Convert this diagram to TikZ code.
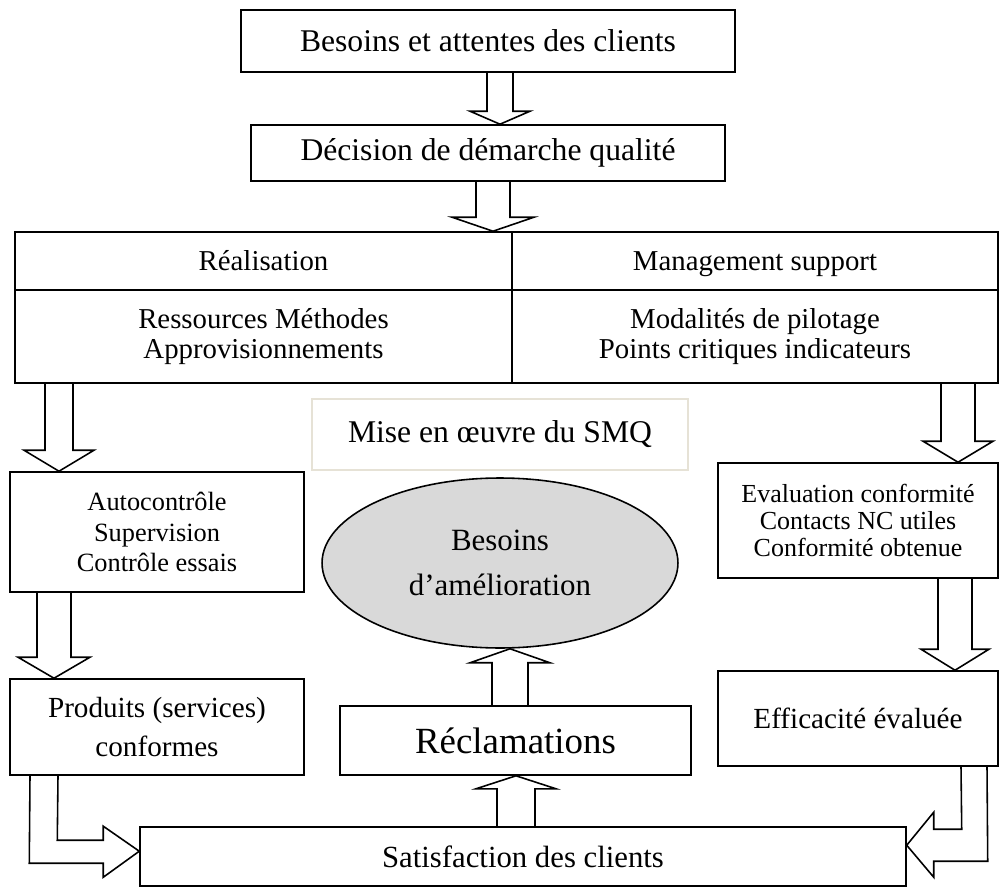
\documentclass[tikz,border=0pt]{standalone}
\usepackage{fontspec}
\setmainfont{Liberation Serif}
\usetikzlibrary{calc,shapes.geometric}
\definecolor{MiseEdge}{HTML}{E6E2D6}
\definecolor{BulleGray}{HTML}{D9D9D9}
\newcommand{\blockdown}[6]{% from, to, axis x, half shaft, half head, head length
  \coordinate (bs) at (#3,0 |- #1.south);
  \coordinate (bt) at (#3,0 |- #2.north);
  \draw[blockarrow] ($(bs)+(-#4,0)$) -- ($(bt)+(-#4,-#6)$) -- ($(bt)+(-#5,-#6)$) -- (bt)
    -- ($(bt)+(#5,-#6)$) -- ($(bt)+(#4,-#6)$) -- ($(bs)+(#4,0)$);
}
\newcommand{\blockup}[6]{%
  \coordinate (bs) at (#3,0 |- #1.north);
  \coordinate (bt) at (#3,0 |- #2.south);
  \draw[blockarrow] ($(bs)+(-#4,0)$) -- ($(bt)+(-#4,#6)$) -- ($(bt)+(-#5,#6)$) -- (bt)
    -- ($(bt)+(#5,#6)$) -- ($(bt)+(#4,#6)$) -- ($(bs)+(#4,0)$);
}

\begin{document}
\begin{tikzpicture}[
  x=0.02cm, y=-0.02cm,
  box/.style={draw, line width=0.9pt, inner sep=0pt, align=center},
  cell/.style={box, font=\fontsize{16.4}{17.2}\selectfont},
  mise/.style={draw=MiseEdge, line width=0.9pt, inner sep=0pt, font=\fontsize{18}{21}\selectfont},
  bulle/.style={ellipse, draw, line width=0.9pt, fill=BulleGray, inner sep=0pt, align=center},
  blockarrow/.style={draw, line width=0.9pt, line join=miter},
]
\useasboundingbox (0,0) rectangle (1000,888);

% top of the chain
\node[box, minimum width=9.88cm, minimum height=1.24cm, font=\fontsize{18}{21}\selectfont] (need) at (488,41) {Besoins et attentes des clients};
\node[box, minimum width=9.48cm, minimum height=1.12cm, font=\fontsize{18}{21}\selectfont] (dec) at (488,153) {Décision de démarche qualité};

% the table
\node[cell, minimum width=9.94cm, minimum height=1.16cm] (real) at (263.5,261) {\vphantom{Ég}Réalisation};
\node[cell, minimum width=9.72cm, minimum height=1.16cm] (mgmt) at (755,261) {\vphantom{Ég}Management support};
\node[cell, minimum width=9.94cm, minimum height=1.86cm] (ress) at (263.5,336.5) {Ressources Méthodes\\Approvisionnements};
\node[cell, minimum width=9.72cm, minimum height=1.86cm] (pilot) at (755,336.5) {Modalités de pilotage\\Points critiques indicateurs};

\node[mise, minimum width=7.52cm, minimum height=1.42cm] (smq) at (500,434.5) {Mise en œuvre du SMQ};

% left and right columns
\node[box, minimum width=5.88cm, minimum height=2.4cm, font=\fontsize{15}{17.3}\selectfont] (auto) at (157,532) {Autocontrôle\\Supervision\\Contrôle essais};
\node[box, minimum width=5.6cm, minimum height=2.3cm, font=\fontsize{14.8}{15.6}\selectfont] (eval) at (858,520.5) {Evaluation conformité\\Contacts NC utiles\\Conformité obtenue};
\node[bulle, minimum width=7.12cm, minimum height=3.4cm, font=\fontsize{17.6}{25.5}\selectfont] (amel) at (500,563) {Besoins\\d’amélioration};
\node[box, minimum width=5.88cm, minimum height=1.92cm, font=\fontsize{16.6}{22}\selectfont] (prod) at (157,727) {Produits (services)\\conformes};
\node[box, minimum width=5.6cm, minimum height=1.9cm, font=\fontsize{16.6}{20}\selectfont] (effi) at (858,718.5) {Efficacité évaluée};
\node[box, minimum width=7.02cm, minimum height=1.38cm, font=\fontsize{21}{25}\selectfont] (recl) at (515.5,740.5) {Réclamations};
\node[box, minimum width=15.32cm, minimum height=1.18cm, font=\fontsize{17.5}{21}\selectfont] (satis) at (523,856.5) {Satisfaction des clients};

% block arrows
\blockdown{need}{dec}{500}{13}{30}{13}
\blockdown{dec}{real}{493}{17}{41}{14}
\blockdown{ress}{auto}{59}{14}{35}{21}
\blockdown{pilot}{eval}{958}{17}{35}{21}
\blockdown{auto}{prod}{54}{17}{36}{21}
\blockdown{eval}{effi}{955}{17}{34}{21}
\blockup{recl}{amel}{510}{18}{40}{14}
\blockup{satis}{recl}{516}{19}{40}{13}

% bent arrows into the bottom box
\coordinate (lt) at ($(satis.north west)+(0,25)$);
\draw[blockarrow] (58,0 |- prod.south) -- ($(lt)+(-82,-11)$) -- ($(lt)+(-36,-11)$) -- ($(lt)+(-36,-25)$) -- (lt)
  -- ($(lt)+(-36,26)$) -- ($(lt)+(-36,12)$) -- ($(lt)+(-110,12)$) -- (30,0 |- prod.south);
\coordinate (rt) at ($(satis.north east)+(0,19)$);
\draw[blockarrow] (961,0 |- effi.south) -- ($(rt)+(55,-16)$) -- ($(rt)+(27,-16)$) -- ($(rt)+(27,-33)$) -- (rt)
  -- ($(rt)+(27,32)$) -- ($(rt)+(27,16)$) -- ($(rt)+(81,16)$) -- (987,0 |- effi.south);
\end{tikzpicture}
\end{document}
